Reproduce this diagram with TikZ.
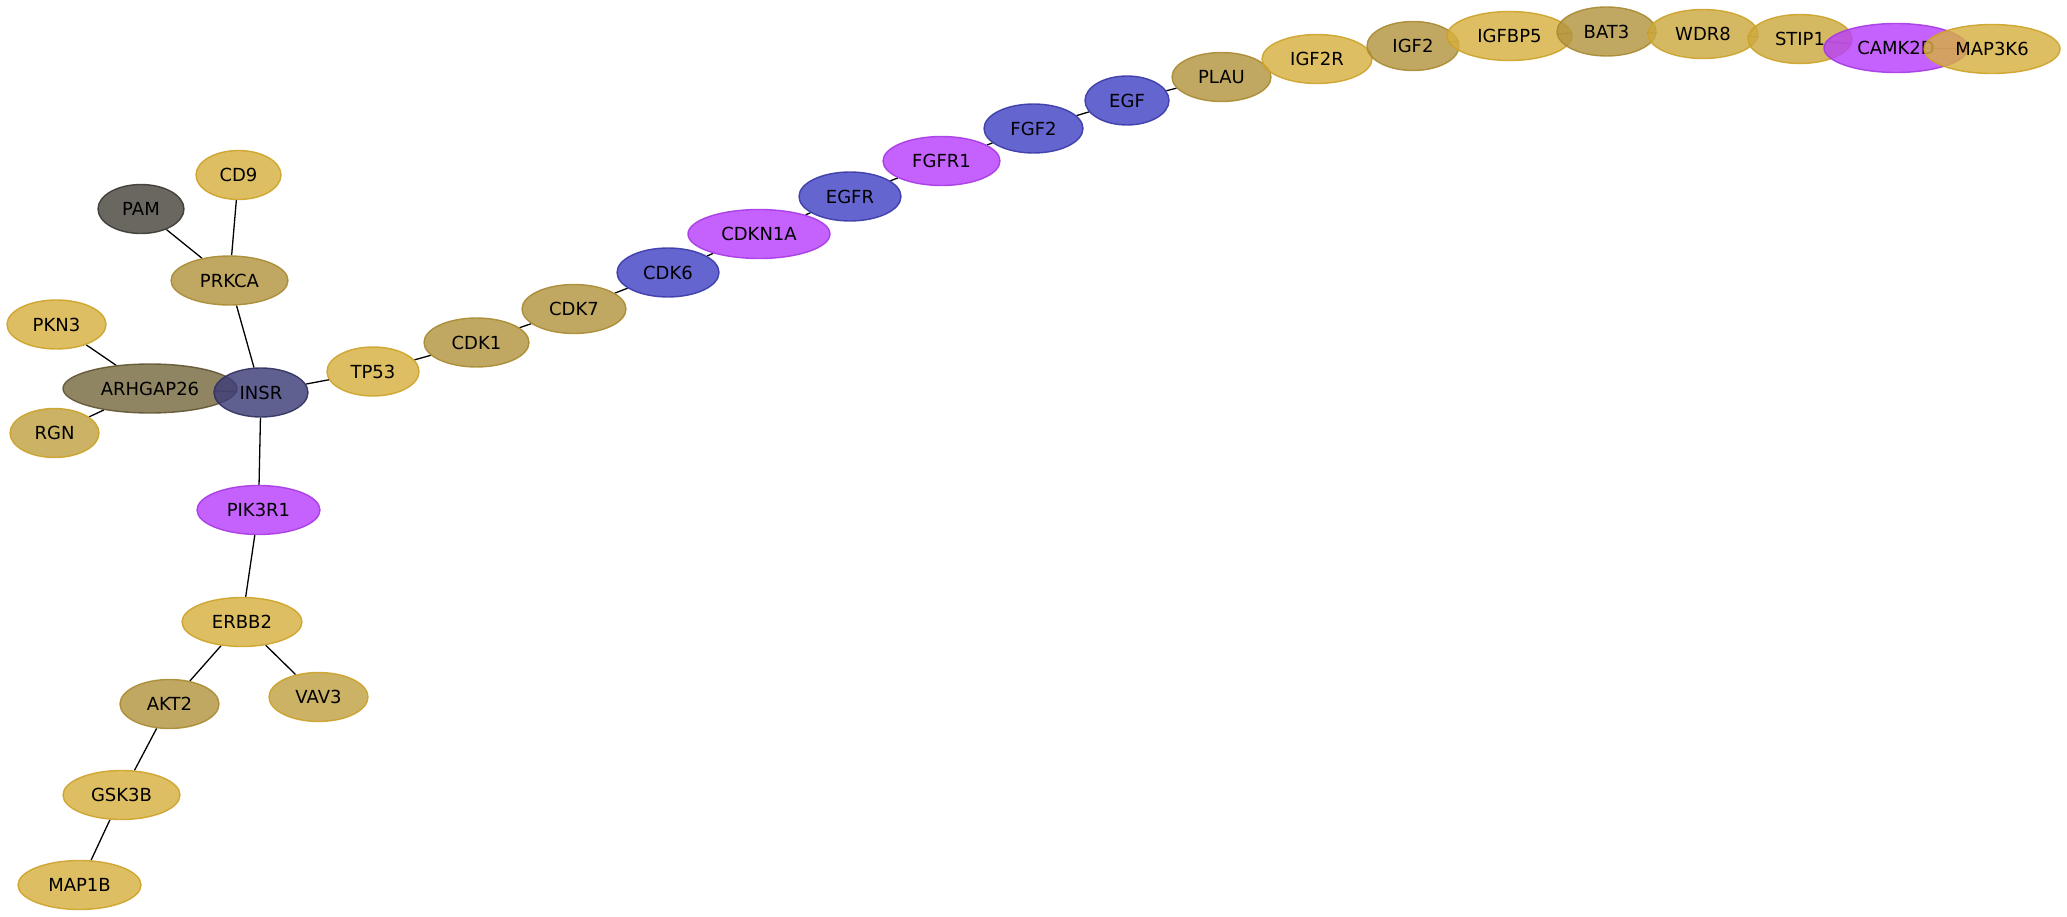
\documentclass[tikz,border=0pt]{standalone}
\usepackage{fontspec}
\setmainfont{DejaVu Sans}
\usepackage{tikz}
\usetikzlibrary{shapes.geometric,backgrounds}
\definecolor{goldfill}{RGB}{215,176,63}
\definecolor{goldline}{RGB}{205,162,40}
\definecolor{tanfill}{RGB}{178,149,63}
\definecolor{tanline}{RGB}{168,138,50}
\definecolor{khakifill}{RGB}{191,161,67}
\definecolor{ochrefill}{RGB}{204,170,63}
\definecolor{greyfill}{RGB}{73,70,61}
\definecolor{olivefill}{RGB}{120,106,63}
\definecolor{slatefill}{RGB}{61,61,120}
\definecolor{bluefill}{RGB}{67,67,196}
\definecolor{purplefill}{RGB}{184,63,252}

\tikzset{
  gene/.style={ellipse, inner sep=0pt, minimum height=49pt, line width=1.4pt,
    fill opacity=0.82, draw opacity=0.9, text opacity=1,
    font=\fontsize{18}{20}\selectfont},
  goldgene/.style={gene, fill=goldfill, draw=goldline},
  tangene/.style={gene, fill=tanfill, draw=tanline},
  khakigene/.style={gene, fill=khakifill, draw=goldline},
  ochregene/.style={gene, fill=ochrefill, draw=goldline},
  greygene/.style={gene, fill=greyfill, draw=greyfill!80!black},
  olivegene/.style={gene, fill=olivefill, draw=olivefill!80!black},
  slategene/.style={gene, fill=slatefill, draw=slatefill!80!black},
  bluegene/.style={gene, fill=bluefill, draw=bluefill!85!black},
  purplegene/.style={gene, fill=purplefill, draw=purplefill!90!black},
  link/.style={black, line width=1.3pt}
}

\begin{document}
\begin{tikzpicture}[x=1pt, y=-1pt]
\useasboundingbox (0,0) rectangle (2067,917);
% left cluster
\node[greygene, minimum width=86pt] (PAM) at (141,209) {PAM};
\node[goldgene, minimum width=85pt] (CD9) at (238.5,175) {CD9};
\node[tangene, minimum width=117pt] (PRKCA) at (229.5,280.5) {PRKCA};
\node[goldgene, minimum width=99pt] (PKN3) at (56.5,324.5) {PKN3};
\node[olivegene, minimum width=174pt] (ARHGAP26) at (150,388.5) {ARHGAP26};
\node[khakigene, minimum width=89pt] (RGN) at (54.5,433) {RGN};
\node[slategene, minimum width=94pt] (INSR) at (261,392.5) {INSR};
\node[goldgene, minimum width=92pt] (TP53) at (373,371.5) {TP53};
% lower branch
\node[purplegene, minimum width=123pt] (PIK3R1) at (258.5,510) {PIK3R1};
\node[goldgene, minimum width=120pt] (ERBB2) at (242,622) {ERBB2};
\node[tangene, minimum width=99pt] (AKT2) at (169.5,704) {AKT2};
\node[khakigene, minimum width=99pt] (VAV3) at (318.5,697) {VAV3};
\node[goldgene, minimum width=117pt] (GSK3B) at (121.5,795) {GSK3B};
\node[goldgene, minimum width=123pt] (MAP1B) at (79.5,885) {MAP1B};
% diagonal chain
\node[tangene, minimum width=105pt] (CDK1) at (476.5,342.5) {CDK1};
\node[tangene, minimum width=104pt] (CDK7) at (574,309) {CDK7};
\node[bluegene, minimum width=102pt] (CDK6) at (668,272.5) {CDK6};
\node[purplegene, minimum width=142pt] (CDKN1A) at (759,234) {CDKN1A};
\node[bluegene, minimum width=102pt] (EGFR) at (850,196.5) {EGFR};
\node[purplegene, minimum width=117pt] (FGFR1) at (941.5,161) {FGFR1};
\node[bluegene, minimum width=99pt] (FGF2) at (1033.5,128.5) {FGF2};
\node[bluegene, minimum width=84pt] (EGF) at (1127,100.5) {EGF};
\node[tangene, minimum width=99pt] (PLAU) at (1221.5,77) {PLAU};
\node[goldgene, minimum width=110pt] (IGF2R) at (1317,59) {IGF2R};
\node[tangene, minimum width=92pt] (IGF2) at (1413,46) {IGF2};
\node[goldgene, minimum width=125pt] (IGFBP5) at (1509.5,36) {IGFBP5};
\node[tangene, minimum width=99pt] (BAT3) at (1606.5,31.5) {BAT3};
\node[ochregene, minimum width=110pt] (WDR8) at (1703,34) {WDR8};
\node[ochregene, minimum width=104pt] (STIP1) at (1800,39) {STIP1};
\node[purplegene, minimum width=144pt] (CAMK2D) at (1896,48) {CAMK2D};
\node[goldgene, minimum width=136pt] (MAP3K6) at (1992,49) {MAP3K6};
% links
\begin{scope}[on background layer]
\draw[link] (PAM) -- (PRKCA);
\draw[link] (CD9) -- (PRKCA);
\draw[link] (PRKCA) -- (INSR);
\draw[link] (PKN3) -- (ARHGAP26);
\draw[link] (RGN) -- (ARHGAP26);
\draw[link] (ARHGAP26) -- (INSR);
\draw[link] (INSR) -- (TP53);
\draw[link] (INSR) -- (PIK3R1);
\draw[link] (PIK3R1) -- (ERBB2);
\draw[link] (ERBB2) -- (AKT2);
\draw[link] (ERBB2) -- (VAV3);
\draw[link] (AKT2) -- (GSK3B);
\draw[link] (GSK3B) -- (MAP1B);
\draw[link] (TP53) -- (CDK1);
\draw[link] (CDK1) -- (CDK7);
\draw[link] (CDK7) -- (CDK6);
\draw[link] (CDK6) -- (CDKN1A);
\draw[link] (CDKN1A) -- (EGFR);
\draw[link] (EGFR) -- (FGFR1);
\draw[link] (FGFR1) -- (FGF2);
\draw[link] (FGF2) -- (EGF);
\draw[link] (EGF) -- (PLAU);
\draw[link] (PLAU) -- (IGF2R);
\draw[link] (IGF2R) -- (IGF2);
\draw[link] (IGF2) -- (IGFBP5);
\draw[link] (IGFBP5) -- (BAT3);
\draw[link] (BAT3) -- (WDR8);
\draw[link] (WDR8) -- (STIP1);
\draw[link] (STIP1) -- (CAMK2D);
\draw[link] (CAMK2D) -- (MAP3K6);
\end{scope}
\end{tikzpicture}
\end{document}
